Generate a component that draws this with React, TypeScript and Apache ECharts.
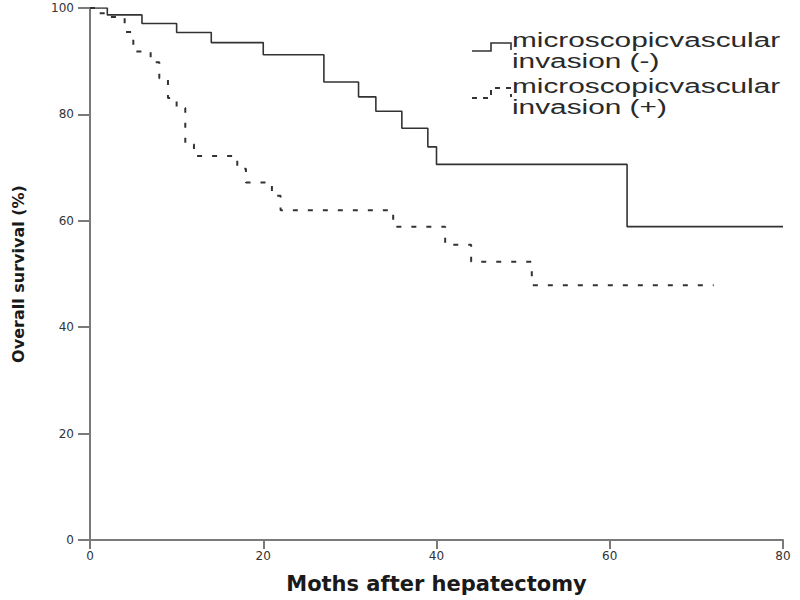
import React, { useEffect, useRef } from "react";
import * as echarts from "echarts";

const xTicks = [0, 20, 40, 60, 80];
const yTicks = [0, 20, 40, 60, 80, 100];

// Microscopic vascular invasion (-): months and survival (%)
const negMonths = [0, 2, 6, 10, 14, 20, 27, 31, 33, 36, 39, 40, 62, 80];
const negSurvival = [100, 98.7, 97.1, 95.4, 93.5, 91.2, 86.1, 83.3, 80.6, 77.4, 73.9, 70.6, 58.9, 58.9];

// Microscopic vascular invasion (+)
const posMonths = [0, 1, 2, 4, 5, 7, 8, 9, 10, 11, 12, 17, 18, 21, 22, 35, 41, 44, 51, 72];
const posSurvival = [100, 99, 98.3, 95.5, 91.8, 89.8, 86.8, 83.1, 81.2, 74.4, 72.2, 69.8, 67.2, 64.7, 62.0, 58.9, 55.5, 52.3, 47.9, 47.9];

const legendLines = [
  ["microscopicvascular", "invasion (-)"],
  ["microscopicvascular", "invasion (+)"],
];

export default function App() {
  const ref = useRef<HTMLDivElement>(null);

  useEffect(() => {
    if (!ref.current) return;
    const chart = echarts.init(ref.current, undefined, { renderer: "svg" });
    const axisColor = "#7a7a7a";
    const textFont = "Liberation Sans, Arial, sans-serif";

    const legendText = (txt: string, y: number) => ({
      type: "text",
      x: 512,
      y,
      scaleX: 1.42,
      style: {
        text: txt,
        x: 0,
        y: 0,
        fill: "#2a2a2a",
        font: `21px ${textFont}`,
        align: "left",
        verticalAlign: "middle",
      },
    });

    chart.setOption({
      animation: false,
      backgroundColor: "#ffffff",
      grid: { left: 90, right: 17, top: 8, bottom: 60, containLabel: false },
      xAxis: {
        type: "value",
        min: xTicks[0],
        max: xTicks[xTicks.length - 1],
        interval: 20,
        name: "Moths after hepatectomy",
        nameLocation: "middle",
        nameGap: 33,
        nameTextStyle: {
          fontFamily: "DejaVu Sans",
          fontWeight: "bold",
          fontSize: 21,
          color: "#1a1a1a",
        },
        axisLine: { show: true, lineStyle: { color: axisColor, width: 2 } },
        axisTick: { show: true, inside: false, length: 9, lineStyle: { color: axisColor, width: 2 } },
        axisLabel: { color: "#333", fontSize: 12, fontFamily: "DejaVu Sans", margin: 10 },
        splitLine: { show: false },
      },
      yAxis: {
        type: "value",
        min: yTicks[0],
        max: yTicks[yTicks.length - 1],
        interval: 20,
        name: "Overall survival (%)",
        nameLocation: "middle",
        nameGap: 64,
        nameTextStyle: {
          fontFamily: "DejaVu Sans",
          fontWeight: "bold",
          fontSize: 16,
          color: "#1a1a1a",
        },
        axisLine: { show: true, lineStyle: { color: axisColor, width: 2 } },
        axisTick: { show: true, inside: false, length: 12, lineStyle: { color: axisColor, width: 2 } },
        axisLabel: { color: "#333", fontSize: 12, fontFamily: "DejaVu Sans", margin: 16 },
        splitLine: { show: false },
      },
      series: [
        {
          name: "microscopicvascular invasion (-)",
          type: "line",
          step: "end",
          showSymbol: false,
          data: negMonths.map((m, i) => [m, negSurvival[i]]),
          lineStyle: { color: "#333", width: 1.6, type: "solid" },
        },
        {
          name: "microscopicvascular invasion (+)",
          type: "line",
          step: "end",
          showSymbol: false,
          data: posMonths.map((m, i) => [m, posSurvival[i]]),
          lineStyle: { color: "#333", width: 2, type: [5, 10] },
        },
      ],
      graphic: [
        {
          type: "polyline",
          shape: { points: [[472, 51], [491, 51], [491, 43], [511, 43], [511, 50]] },
          style: { stroke: "#333", lineWidth: 1.6, fill: "none" },
        },
        {
          type: "polyline",
          shape: { points: [[472, 98], [491, 98], [491, 88], [511, 88], [511, 97]] },
          style: { stroke: "#333", lineWidth: 2, fill: "none", lineDash: [5, 6] },
        },
        legendText(legendLines[0][0], 40),
        legendText(legendLines[0][1], 61),
        legendText(legendLines[1][0], 86),
        legendText(legendLines[1][1], 107),
      ],
    });
    return () => chart.dispose();
  }, []);

  return <div ref={ref} style={{ width: 800, height: 600, position: "absolute", left: 0, top: 0 }} />;
}
